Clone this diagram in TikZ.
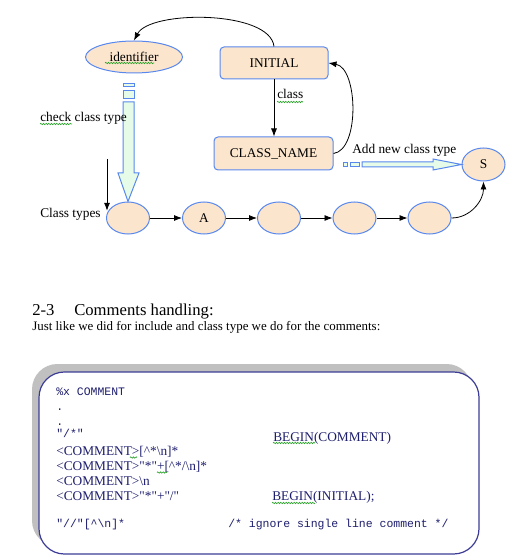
\documentclass[tikz,border=0pt]{standalone}
\usepackage{fontspec}
\setmainfont{Liberation Serif}
\setmonofont{Liberation Mono}[Ligatures=TeXOff]
\newfontfamily\cserif{Liberation Serif}[Ligatures=TeXOff]
\usetikzlibrary{shapes.geometric,arrows.meta,decorations.pathmorphing}
\definecolor{peach}{RGB}{252,229,205}
\definecolor{bord}{RGB}{88,136,238}
\definecolor{lgreen}{RGB}{230,252,232}
\definecolor{navy}{RGB}{60,60,150}
\definecolor{codecol}{RGB}{30,30,110}
\definecolor{shadowgray}{RGB}{192,192,192}
\definecolor{squig}{RGB}{40,160,40}
\begin{document}
\begin{tikzpicture}[x=0.75pt,y=-0.75pt,
 stateell/.style={ellipse,draw=bord,fill=peach,line width=0.75pt,inner sep=0pt,font=\fontsize{10}{12}\selectfont},
 statebox/.style={rectangle,rounded corners=3pt,draw=bord,fill=peach,line width=0.75pt,inner sep=0pt,font=\fontsize{10}{12}\selectfont},
 arr/.style={-{Latex[length=6pt,width=4.5pt]},line width=0.6pt},
 lbl/.style={anchor=base west,inner sep=0pt,font=\fontsize{10}{12}\selectfont},
 blockarr/.style={draw=bord,fill=lgreen,line width=0.75pt},
 codeserif/.style={anchor=base west,inner sep=0pt,text=codecol,font=\fontsize{10}{12}\cserif},
 codemono/.style={anchor=base west,inner sep=0pt,text=codecol,font=\fontsize{8.6}{10}\ttfamily},
 squiggle/.style={draw=squig,line width=0.5pt,decorate,decoration={snake,amplitude=0.5pt,segment length=2pt}}
]
\path[use as bounding box] (0,0) rectangle (530,559);

% upper diagram nodes
\node[stateell,minimum width=72.75pt,minimum height=24pt] (ident) at (134,57) {identifier};
\node[statebox,minimum width=81pt,minimum height=24pt] (init) at (274,63) {INITIAL};
\node[statebox,minimum width=89.25pt,minimum height=24.75pt] (cls) at (273.5,153.5) {CLASS\_NAME};
\node[stateell,minimum width=32.25pt,minimum height=24pt] (e1) at (128,218) {};
\node[stateell,minimum width=32.25pt,minimum height=24pt] (e2) at (204,218) {A};
\node[stateell,minimum width=32.25pt,minimum height=24pt] (e3) at (279,218) {};
\node[stateell,minimum width=32.25pt,minimum height=24pt] (e4) at (354.5,218) {};
\node[stateell,minimum width=32.25pt,minimum height=24pt] (e5) at (429.5,218) {};
\node[stateell,minimum width=32.25pt,minimum height=24.75pt] (S) at (483.5,164.5) {S};

% connectors
\draw[arr] (init.south) -- (init.south |- cls.north);
\draw[arr] (cls.east) .. controls (360,150) and (358,68) .. (init.east);
\draw[arr] (init.north) .. controls (270,10) and (150,10) .. (ident.north);
\draw[arr] (e1.east) -- (e2.west);
\draw[arr] (e2.east) -- (e3.west);
\draw[arr] (e3.east) -- (e4.west);
\draw[arr] (e4.east) -- (e5.west);
\draw[arr] (e5.east) to[out=0,in=-90] (S.south);
\coordinate (ct) at (107,159);
\draw[arr] (ct) -- (ct |- e1.160);

% block arrows
\draw[blockarr] (123,84) rectangle (134,87);
\draw[blockarr] (123,91) rectangle (134,99);
\draw[blockarr] (123,102) -- (134,102) -- (134,173) -- (139,173) -- (e1.north) -- (118,173) -- (123,173) -- cycle;
\draw[blockarr] (343,163) rectangle (347,167);
\draw[blockarr] (350,163) rectangle (359,167);
\draw[blockarr] (362,162) -- (433,162) -- (433,159) -- (S.west) -- (433,170) -- (433,167) -- (362,167) -- cycle;

% labels
\node[lbl] (lclass) at (277,99) {class};
\node[lbl] (lcheck) at (40,122) {check class type};
\node[lbl] (lct) at (40,218) {Class types};
\node[lbl] (ladd) at (352,154) {Add new class type};

% heading and paragraph
\node[lbl,font=\fontsize{12.5}{15}\selectfont] (h1) at (32,315) {2-3};
\node[lbl,font=\fontsize{12.5}{15}\selectfont] (h2) at (74,315) {Comments handling:};
\node[lbl,font=\fontsize{9.7}{12}\selectfont] (para) at (32,330) {Just like we did for include and class type we do for the comments:};

% code box
\fill[shadowgray,rounded corners=19pt] (32,364) rectangle (472,546);
\draw[navy,line width=0.9pt,fill=white,rounded corners=19pt] (39,372) rectangle (479,554);

\node[codemono] (c1) at (56,395) {\%x COMMENT};
\node[codemono] (c2) at (56,410.5) {.};
\node[codemono] (c3) at (56,425) {.};
\node[codemono] (c4) at (56,437) {"/*"};
\node[codeserif] (c4b) at (273,441) {BEGIN(COMMENT)};
\node[codeserif] (c5) at (56,455) {<COMMENT>[\textasciicircum*\textbackslash n]*};
\node[codeserif] (c6) at (56,470) {<COMMENT>"*"+[\textasciicircum*/\textbackslash n]*};
\node[codeserif] (c7) at (56,485) {<COMMENT>\textbackslash n};
\node[codeserif] (c8) at (56,500.5) {<COMMENT>"*"+"/"};
\node[codeserif] (c8b) at (272,500.5) {BEGIN(INITIAL);};
\node[codemono] (c9) at (56,527) {"//"[\textasciicircum\textbackslash n]*};
\node[codemono] (c9b) at (228,527) {/* ignore single line comment */};

% spell-check squiggles
\draw[squiggle] (105,63) -- (154,63);
\draw[squiggle] (40,124) -- (72,124);
\draw[squiggle] (277,102) -- (303,102);
\draw[squiggle] (130,457.5) -- (137,457.5);
\draw[squiggle] (157,472.5) -- (167,472.5);
\draw[squiggle] (273,443) -- (315,443);
\draw[squiggle] (272,503) -- (315,503);
\end{tikzpicture}
\end{document}
